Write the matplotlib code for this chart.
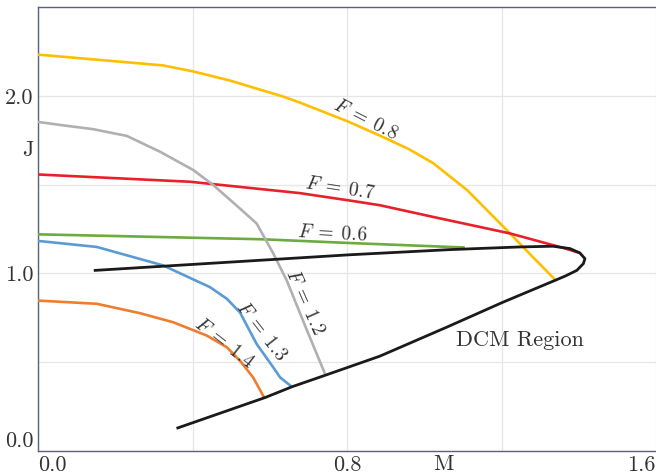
import matplotlib
matplotlib.use("Agg")
import matplotlib.pyplot as plt

plt.rcParams['font.family'] = 'serif'
plt.rcParams['font.serif'] = ['cmr10']
plt.rcParams['mathtext.fontset'] = 'cm'
plt.rcParams['axes.unicode_minus'] = False

# curves of constant F in the (M, J) plane
f08_m = [0, 0.324, 0.402, 0.497, 0.634, 0.678, 0.803, 0.893, 0.960, 1.023, 1.111, 1.214, 1.282, 1.340]
f08_j = [2.232, 2.171, 2.137, 2.086, 1.996, 1.962, 1.855, 1.768, 1.700, 1.621, 1.469, 1.243, 1.090, 0.962]

f07_m = [0, 0.394, 0.678, 0.808, 0.885, 1.023, 1.222, 1.359, 1.403]
f07_j = [1.557, 1.516, 1.452, 1.410, 1.384, 1.318, 1.225, 1.144, 1.115]

f06_m = [0, 0.583, 0.808, 1.067, 1.105]
f06_j = [1.220, 1.192, 1.171, 1.149, 1.146]

f12_m = [0, 0.057, 0.143, 0.230, 0.316, 0.402, 0.454, 0.523, 0.566, 0.609, 0.644, 0.700, 0.743]
f12_j = [1.853, 1.836, 1.812, 1.774, 1.685, 1.582, 1.497, 1.365, 1.281, 1.113, 0.960, 0.660, 0.435]

f13_m = [0, 0.152, 0.324, 0.402, 0.445, 0.489, 0.523, 0.566, 0.609, 0.627, 0.657]
f13_j = [1.183, 1.149, 1.045, 0.966, 0.923, 0.857, 0.780, 0.603, 0.471, 0.414, 0.362]

f14_m = [0, 0.152, 0.264, 0.350, 0.437, 0.489, 0.523, 0.557, 0.585]
f14_j = [0.847, 0.829, 0.776, 0.725, 0.650, 0.584, 0.508, 0.414, 0.303]

# DCM region boundary
dcm_m = [0.148, 0.808, 1.067, 1.248, 1.333, 1.377, 1.403, 1.416, 1.412, 1.395, 1.365,
         1.340, 1.204, 1.058, 0.885, 0.747, 0.658, 0.588, 0.362]
dcm_j = [1.017, 1.105, 1.134, 1.149, 1.153, 1.140, 1.115, 1.083, 1.055, 1.017, 0.985,
         0.962, 0.838, 0.697, 0.534, 0.429, 0.362, 0.301, 0.130]

curves = [
    (f08_m, f08_j, '#FFBF00', r'$F\;=\;0.8$', 0.847, 1.864, -27),
    (f07_m, f07_j, '#E8202A', r'$F\;=\;0.7$', 0.782, 1.475, -9),
    (f06_m, f06_j, '#6DAA3F', r'$F\;=\;0.6$', 0.761, 1.220, -3),
    (f12_m, f12_j, '#B0B0B0', r'$F\;=\;1.2$', 0.691, 0.836, -66),
    (f13_m, f13_j, '#5B9BD5', r'$F\;=\;1.3$', 0.577, 0.672, -52),
    (f14_m, f14_j, '#ED7D31', r'$F\;=\;1.4$', 0.482, 0.605, -38),
]

fig = plt.figure(figsize=(6.56, 4.75), dpi=100)
ax = fig.add_axes([38/656, 1 - 451/475, 618/656, 444/475])

for m, j, col, lab, tx, ty, rot in curves:
    ax.plot(m, j, color=col, lw=1.9, solid_capstyle='butt', solid_joinstyle='round', zorder=3)
    ax.text(tx, ty, lab, fontsize=14, color='#333333', rotation=rot,
            ha='center', va='center', rotation_mode='anchor', zorder=5)

ax.plot(dcm_m, dcm_j, color='#1a1a1a', lw=2.0, solid_joinstyle='round', zorder=4)
ax.text(1.248, 0.621, 'DCM Region', fontsize=16, color='#333333',
        ha='center', va='center')

ax.set_xlim(0, 1.6)
ax.set_ylim(0, 2.5)
ax.set_xticks([0, 0.4, 0.8, 1.2, 1.6])
ax.set_xticklabels(['0.0', '', '0.8', '', '1.6'])
ax.set_yticks([0, 0.5, 1.0, 1.5, 2.0])
ax.set_yticklabels(['0.0', '', '1.0', '', '2.0'])
ax.tick_params(length=0, labelsize=16, labelcolor='#333333', pad=3)
xl = ax.get_xticklabels()
xl[0].set_ha('left')
xl[-1].set_ha('right')
ax.get_yticklabels()[0].set_va('bottom')

ax.grid(True, color='#e6e6e6', lw=0.9)
ax.set_axisbelow(True)
for side in ['left', 'bottom', 'top']:
    ax.spines[side].set_color('#5a6080')
    ax.spines[side].set_linewidth(1.0)
ax.spines['right'].set_visible(False)

ax.text(1.05, -0.02, 'M', fontsize=16, color='#333333',
        ha='center', va='top', clip_on=False)
ax.text(-0.012, 1.695, 'J', fontsize=16, color='#333333',
        ha='right', va='center', clip_on=False)

fig.savefig('out.png', dpi=100)
